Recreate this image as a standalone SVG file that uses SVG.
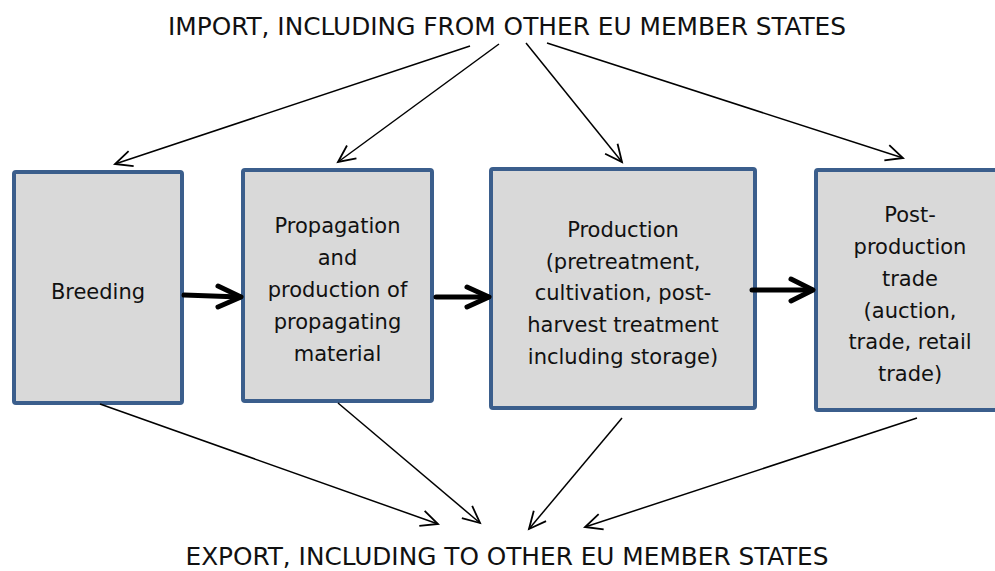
<svg xmlns="http://www.w3.org/2000/svg" width="995" height="571" viewBox="0 0 995 571">
  <style>
    .box { fill: #d9d9d9; stroke: #3b5e8c; stroke-width: 4; }
    .lbl { font-family: "DejaVu Sans", Verdana, sans-serif; font-size: 21px; fill: #111; text-anchor: middle; }
    .head { font-family: "DejaVu Sans Condensed", "DejaVu Sans", sans-serif; font-size: 25px; fill: #111; text-anchor: middle; }
    .thin { stroke: #000; stroke-width: 1.5; fill: none; marker-end: url(#open); }
    .thick { stroke: #000; stroke-width: 5; fill: none; stroke-linecap: round; stroke-linejoin: round; }
  </style>
  <defs>
    <marker id="open" markerUnits="userSpaceOnUse" markerWidth="24" markerHeight="24" viewBox="-20 -12 24 24" refX="0" refY="0" orient="auto">
      <path d="M-17,-8 L0,0 L-17,8" fill="none" stroke="#000" stroke-width="1.8" stroke-linejoin="miter"/>
    </marker>
  </defs>

  <rect width="995" height="571" fill="#ffffff"/>

  <text class="head" x="507" y="35" textLength="678" lengthAdjust="spacingAndGlyphs">IMPORT, INCLUDING FROM OTHER EU MEMBER STATES</text>
  <text class="head" x="507" y="565" font-size="24" textLength="643" lengthAdjust="spacingAndGlyphs">EXPORT, INCLUDING TO OTHER EU MEMBER STATES</text>

  <g id="breeding">
    <rect class="box" x="14" y="172" width="168" height="231" rx="2"/>
    <text class="lbl" x="98" y="299">Breeding</text>
  </g>

  <g id="propagation">
    <rect class="box" x="243" y="170" width="189" height="231" rx="2"/>
    <text class="lbl" x="337.5" y="233">Propagation</text>
    <text class="lbl" x="337.5" y="265">and</text>
    <text class="lbl" x="337.5" y="297">production of</text>
    <text class="lbl" x="337.5" y="329">propagating</text>
    <text class="lbl" x="337.5" y="361">material</text>
  </g>

  <g id="production">
    <rect class="box" x="491" y="169" width="264" height="239" rx="2"/>
    <text class="lbl" x="623" y="237">Production</text>
    <text class="lbl" x="623" y="269">(pretreatment,</text>
    <text class="lbl" x="623" y="300">cultivation, post-</text>
    <text class="lbl" x="623" y="332">harvest treatment</text>
    <text class="lbl" x="623" y="364">including storage)</text>
  </g>

  <g id="post-production">
    <rect class="box" x="816" y="170" width="190" height="240" rx="2"/>
    <text class="lbl" x="910" y="222">Post-</text>
    <text class="lbl" x="910" y="254">production</text>
    <text class="lbl" x="910" y="286">trade</text>
    <text class="lbl" x="910" y="318">(auction,</text>
    <text class="lbl" x="910" y="349">trade, retail</text>
    <text class="lbl" x="910" y="381">trade)</text>
  </g>

  <g id="connectors">
    <!-- import flows -->
    <line class="thin" x1="470" y1="46" x2="115" y2="164"/>
    <line class="thin" x1="499" y1="44" x2="338" y2="162"/>
    <line class="thin" x1="526" y1="43" x2="622" y2="162"/>
    <line class="thin" x1="547" y1="43" x2="903" y2="158"/>

    <!-- chain between stages -->
    <line class="thick" x1="184" y1="295" x2="240" y2="297"/>
    <path class="thick" d="M218,286 L241,297 L218,307"/>
    <line class="thick" x1="436" y1="297" x2="488" y2="297"/>
    <path class="thick" d="M467,287 L489,297 L467,307"/>
    <line class="thick" x1="752" y1="290" x2="812" y2="290"/>
    <path class="thick" d="M791,279 L813,290 L791,301"/>

    <!-- export flows -->
    <line class="thin" x1="100" y1="404" x2="438" y2="524"/>
    <line class="thin" x1="338" y1="403" x2="480" y2="523"/>
    <line class="thin" x1="622" y1="418" x2="529" y2="529"/>
    <line class="thin" x1="917" y1="418" x2="585" y2="527"/>
  </g>
</svg>
